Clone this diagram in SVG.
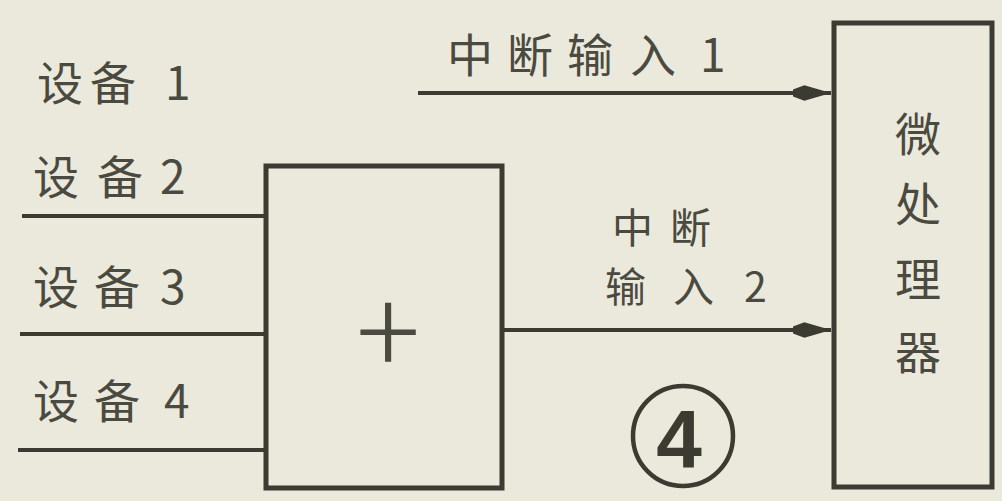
<svg xmlns="http://www.w3.org/2000/svg" width="1002" height="501" viewBox="0 0 1002 501">
<defs>
<marker id="ah" viewBox="0 0 10 10" refX="10" refY="5" markerWidth="38" markerHeight="17" markerUnits="userSpaceOnUse" orient="auto" preserveAspectRatio="none">
<path d="M0,3 L3,0.5 L10,5 L3,9.5 L0,7 Z" fill="#3b3b32"/>
</marker>
</defs>
<style>
.t{font-family:"Noto Sans CJK SC","Liberation Sans",sans-serif;fill:#4a4a40;}
.box{fill:none;stroke:#3b3b32;stroke-width:5;}
.ln{stroke:#3b3b32;stroke-width:4;fill:none;}
</style>
<rect width="1002" height="501" fill="#ebe9dc"/>
<g id="labels-devices">
<text class="t" x="37 90 140 165" y="100" font-size="46">设备 1</text>
<text class="t" x="33 97 147 160" y="194" font-size="46">设备 2</text>
<text class="t" x="33 94 144 160" y="304" font-size="46">设备 3</text>
<text class="t" x="33 94 144 164" y="418" font-size="46">设备 4</text>
</g>
<g id="node-or">
<rect class="box" x="266" y="166" width="236" height="322"/>
<text class="t" x="388" y="376" font-size="120" text-anchor="middle" font-weight="300">+</text>
</g>
<g id="node-cpu">
<rect class="box" x="834" y="23" width="158" height="464"/>
<text class="t" x="918" y="151" font-size="46" text-anchor="middle">微</text>
<text class="t" x="918" y="221" font-size="46" text-anchor="middle">处</text>
<text class="t" x="918" y="296" font-size="46" text-anchor="middle">理</text>
<text class="t" x="918" y="369" font-size="46" text-anchor="middle">器</text>
</g>
<g id="connectors">
<line class="ln" x1="22" y1="216" x2="266" y2="216"/>
<line class="ln" x1="20" y1="334" x2="266" y2="334"/>
<line class="ln" x1="18" y1="450" x2="266" y2="450"/>
<line class="ln" x1="418" y1="93" x2="831" y2="93" marker-end="url(#ah)"/>
<line class="ln" x1="502" y1="330" x2="831" y2="330" marker-end="url(#ah)"/>
</g>
<g id="edge-labels">
<text class="t" x="447 507 567 630 690 700" y="72" font-size="46">中断输入 1</text>
<text class="t" x="612 652 670" y="243" font-size="41">中 断</text>
<text class="t" x="605 673 720 744" y="302" font-size="41">输入 2</text>
</g>
<g id="figure-number">
<circle cx="683" cy="436" r="50" fill="none" stroke="#3b3b32" stroke-width="4.5"/>
<text x="679" y="467" font-size="82" font-weight="bold" text-anchor="middle" font-family="Liberation Sans, sans-serif" fill="#3b3b32">4</text>
</g>
</svg>
